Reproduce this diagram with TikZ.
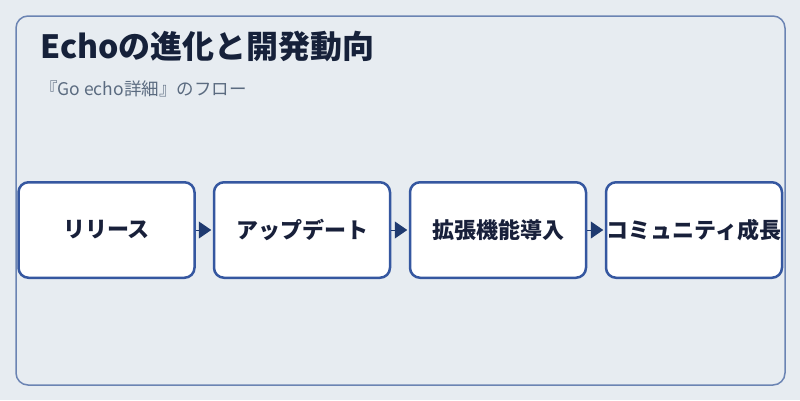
\documentclass[tikz,border=0pt]{standalone}
\usepackage{fontspec}
\setmainfont{Noto Sans CJK JP}
\usetikzlibrary{arrows.meta}
\definecolor{bgc}{HTML}{E7ECF1}
\definecolor{framec}{HTML}{6B84B3}
\definecolor{boxc}{HTML}{3557A0}
\definecolor{arrowc}{HTML}{1F3A70}
\definecolor{titlec}{HTML}{16213A}
\definecolor{subc}{HTML}{5B6B80}
\definecolor{textc}{HTML}{18203A}
\tikzset{
  flowbox/.style={draw=boxc, line width=2.5pt, fill=white, rounded corners=10pt,
    minimum width=176pt, minimum height=95.5pt, inner sep=0pt,
    font=\fontsize{22pt}{26pt}\selectfont\bfseries, text=textc},
  flowarrow/.style={draw=arrowc, line width=1pt, -{Triangle[length=12.5pt,width=17pt]}, shorten >=1.5pt, fill=arrowc}
}
\begin{document}
\begin{tikzpicture}[x=1pt,y=-1pt]
\useasboundingbox[fill=bgc] (0,0) rectangle (800,400);
\draw[framec, line width=1.5pt, rounded corners=12pt] (16,16) rectangle (785,385);
\node[anchor=base west, inner sep=0pt, text=titlec, font=\fontsize{32pt}{36pt}\selectfont\bfseries] (title) at (40,58) {Echoの進化と開発動向};
\node[anchor=base west, inner sep=0pt, text=subc, font=\fontsize{17.5pt}{20pt}\selectfont] (sub) at (40,95) {『Go echo詳細』のフロー};
\node[flowbox] (b1) at (106.5,230) {リリース};
\node[flowbox] (b2) at (302,230) {アップデート};
\node[flowbox] (b3) at (498,230) {拡張機能導入};
\node[flowbox] (b4) at (694,230) {コミュニティ成長};
\draw[flowarrow] (b1.east) -- (b2.west);
\draw[flowarrow] (b2.east) -- (b3.west);
\draw[flowarrow] (b3.east) -- (b4.west);
\end{tikzpicture}
\end{document}
